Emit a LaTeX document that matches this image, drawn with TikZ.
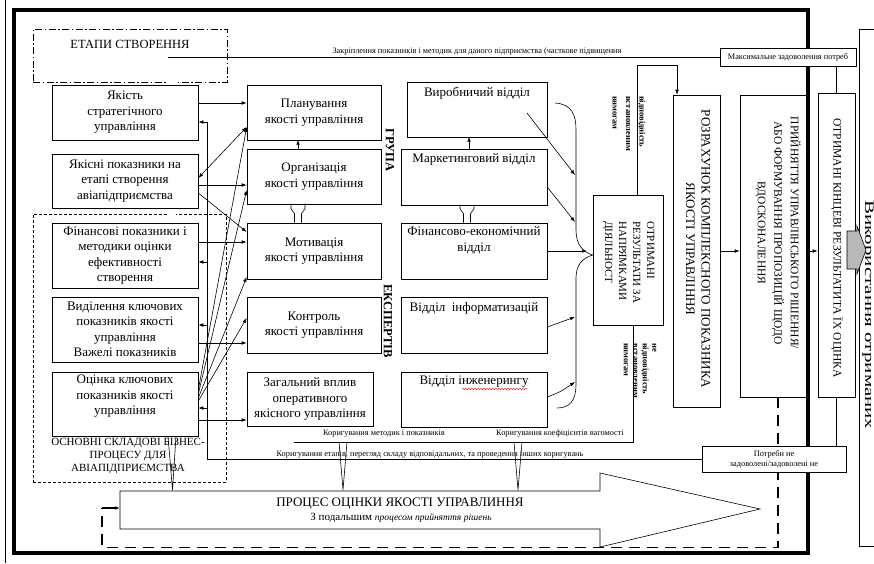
\documentclass[tikz,border=0pt]{standalone}
\usepackage{fontspec}
\setmainfont{Liberation Serif}
\usetikzlibrary{positioning,arrows.meta,decorations.pathmorphing}

\begin{document}
\begin{tikzpicture}[x=1pt, y=-1pt, line width=0.6pt,
    >={Latex[length=5pt,width=3.6pt]},
    font=\fontsize{13}{15.5}\selectfont,
    blk/.style={draw, fill=white, inner sep=0pt, align=center},
    note/.style={inner sep=0pt, font=\fontsize{8.3}{10}\selectfont},
    vert/.style={rotate=-90, inner sep=0pt},
    pipe/.style={double, double distance=7.6pt}]
\useasboundingbox (0,0) rectangle (874,563);

% page edge and outer frame
\draw (5.5,0) -- (5.5,563);
\draw[line width=3.2pt] (14,10) rectangle (808,553);

% stages of creation
\node[draw, dash pattern=on 7pt off 2.5pt on 1.5pt off 2.5pt, minimum width=194pt, minimum height=53pt] (etapy) at (130,55.5) {};
\node[inner sep=0pt, font=\fontsize{12.5}{15}\selectfont] (etapyt) at (130,44) {ЕТАПИ СТВОРЕННЯ};
\node[draw, dash pattern=on 3pt off 2pt, minimum width=193pt, minimum height=268pt] (osn) at (129.5,348) {};
\node[inner sep=0pt, align=center, font=\fontsize{11}{13}\selectfont] (osnt) at (128,456) {ОСНОВНІ СКЛАДОВІ БІЗНЕС-\\ПРОЦЕСУ ДЛЯ\\АВІАПІДПРИЄМСТВА};

% pipes between the columns
\coordinate (top) at (168,57);
\coordinate (strip) at (294,442);
\draw[pipe] (172,57) -- (172,436);
\draw[pipe] (343,57) -- (343,442);
\draw[pipe] (518,57) -- (518,442);
\draw[pipe] (298,279) -- (298,442);
\draw[pipe] (468,279) -- (468,442);
\draw (168,436) -- (172.5,490) -- (176,436);
\draw (339,442) -- (343,490) -- (347,442);
\draw (514,442) -- (518,490) -- (522,442);

% left column
\node[blk, minimum width=146pt, minimum height=55pt] (s1) at (125,112.5) {Якість\\стратегічного\\управління};
\node[blk, minimum width=146pt, minimum height=54pt] (s2) at (125,181) {Якісні показники на\\етапі створення\\авіапідприємства};
\node[blk, minimum width=146pt, minimum height=65pt] (s3) at (125,255.5) {Фінансові показники і\\методики оцінки\\ефективності\\створення};
\node[blk, minimum width=146pt, minimum height=65pt] (s4) at (125,329.5) {Виділення ключових\\показників якості\\управління\\Важелі показників};
\node[blk, minimum width=146pt, minimum height=64pt] (s5) at (125,404) {};
\node[inner sep=0pt, align=center, below=3pt of s5.north] (s5t) {Оцінка ключових\\показників якості\\управління};

% management column
\node[blk, minimum width=134pt, minimum height=55pt] (p1) at (314,112.5) {Планування\\якості управління};
\node[blk, minimum width=134pt, minimum height=55pt] (p2) at (314,176.5) {Організація\\якості управління};
\node[blk, minimum width=134pt, minimum height=56pt] (p3) at (314,251) {Мотивація\\якості управління};
\node[blk, minimum width=134pt, minimum height=56pt] (p4) at (314,325) {Контроль\\якості управління};
\node[blk, minimum width=126pt, minimum height=54pt] (p5) at (310,399) {Загальний вплив\\оперативного\\якісного управління};
\draw[->] ([xshift=-16pt]p2.north) -- ++(0,-9);
\draw ([xshift=-19.5pt]p3.north) -- ++(0,-9) -- ++(-3.5,-5) -- ++(0,-5);
\draw ([xshift=-12.5pt]p3.north) -- ++(0,-9) -- ++(3.5,-5) -- ++(0,-5);

% departments column
\node[blk, minimum width=140pt, minimum height=55pt] (v1) at (477,109.5) {};
\node[blk, minimum width=146pt, minimum height=56pt] (v2) at (474,177) {};
\node[blk, minimum width=146pt, minimum height=56pt] (v3) at (474,251) {};
\node[blk, minimum width=146pt, minimum height=56pt] (v4) at (474,325) {};
\node[blk, minimum width=146pt, minimum height=55pt] (v5) at (474,399.5) {};
\node[inner sep=0pt, below=5pt of v1.north] (v1t) {Виробничий відділ};
\node[inner sep=0pt, below=5pt of v2.north] (v2t) {Маркетинговий відділ};
\node[inner sep=0pt, align=center, below=4pt of v3.north] (v3t) {Фінансово-економічний\\відділ};
\node[inner sep=0pt, below=5pt of v4.north] (v4t) {Відділ~ інформатизацій};
\node[inner sep=0pt, below=4pt of v5.north] (v5t) {Відділ інженерингу};
\draw[red, line width=0.4pt, decorate, decoration={snake, amplitude=0.8pt, segment length=3pt}] (462,389) -- (528,389);
\draw[->] ([xshift=-5pt]v2.north) -- ++(0,-12);
\draw ([xshift=-10.5pt]v3.north) -- ++(0,-9) -- ++(-3.5,-5) -- ++(0,-4);
\draw ([xshift=-3.5pt]v3.north) -- ++(0,-9) -- ++(3.5,-5) -- ++(0,-4);

% experts group
\node[vert, font=\bfseries\fontsize{12.5}{15}\selectfont] (grupa) at (390,150) {ГРУПА};
\node[vert, font=\bfseries\fontsize{12.5}{15}\selectfont] (eksp) at (388,321) {ЕКСПЕРТІВ};

% links between the two left columns
\draw[->] ([yshift=9.5pt]s1.east) -- ([yshift=9.5pt]p1.west);
\draw[<->] ([yshift=3pt]s2.east) -- ([yshift=-14.5pt]p1.west);
\draw[->] ([yshift=-4pt]s2.east) -- ([yshift=-8.5pt]p2.west);
\draw[->] ([yshift=-12pt]s2.east) -- ([yshift=19pt]p3.west);
\draw[->] ([yshift=13.5pt]s3.east) -- ([yshift=9pt]p3.west);
\draw[->] ([yshift=-13.5pt]s4.east) -- ([yshift=-18pt]p4.west);
\draw[->] ([yshift=-16pt]s5.east) -- ([yshift=-21pt]p5.west);
\draw[->] ([yshift=14pt]s5.east) -- ([yshift=-14.5pt]p1.west);
\draw[->] ([yshift=10pt]s5.east) -- ([yshift=-13.5pt]p2.west);
\draw[->] ([yshift=6pt]s5.east) -- ([yshift=-26pt]p3.west);
\draw[->] ([yshift=3pt]s5.east) -- ([yshift=7pt]p4.west);

% results by directions
\node[blk, minimum width=70pt, minimum height=130pt] (otr) at (628,260) {};
\node[vert, anchor=west, align=left, font=\fontsize{11}{14}\selectfont] (otrt) at (628.5,221) {ОТРИМАНІ\\РЕЗУЛЬТАТИ ЗА\\НАПРЯМКАМИ\\ДІЯЛЬНОСТ};
\coordinate (b1) at (575,175);
\coordinate (b2) at (575,222);
\coordinate (b3) at (587,251);
\coordinate (b4) at (575,317);
\coordinate (b5) at (575,382);
\draw (555,103) .. controls (572,104) and (576,115) .. (576,130) -- (576,230) .. controls (576,245) and (583,252) .. ([yshift=5pt]otr.west);
\draw ([yshift=5pt]otr.west) .. controls (583,258) and (576,264) .. (576,278) -- (576,385) .. controls (576,400) and (570,408) .. (557,408);
\draw[->] ([xshift=50pt,yshift=-3.5pt]v1.center) -- (b1);
\draw[->] ([yshift=-10pt]v2.east) -- (b2);
\draw[->] (v3.east) -- (b3);
\draw[->] ([yshift=-2pt]v4.east) -- (b4);
\draw[->] ([yshift=2.5pt]v5.east) .. controls (560,392) .. (b5);

% complex indicator and decision
\node[blk, minimum width=47pt, minimum height=312pt] (roz) at (696.5,251) {};
\node[vert, align=center] (rozt) at (698,249) {РОЗРАХУНОК КОМПЛЕКСНОГО ПОКАЗНИКА\\ЯКОСТІ УПРАВЛІННЯ};
\node[blk, minimum width=66pt, minimum height=302pt] (pry) at (773,246) {};
\node[vert, align=center, font=\fontsize{11.5}{16.5}\selectfont] (pryt) at (778,233) {ПРИЙНЯТТЯ УПРАВЛІНСЬКОГО РІШЕННЯ/\\АБО ФОРМУВАННЯ ПРОПОЗИЦІЙ ЩОДО\\ВДОСКОНАЛЕННЯ};
\node[blk, minimum width=37pt, minimum height=304pt] (kin) at (836.5,245) {};
\node[vert, font=\fontsize{11.5}{14}\selectfont] (kint) at (837,248) {ОТРИМАНІ КІНЦЕВІ РЕЗУЛЬТАТИТА ЇХ ОЦІНКА};
\node[blk, minimum width=31pt, minimum height=517pt] (vyk) at (874.5,287.5) {};
\node[vert, anchor=south, font=\fontsize{21}{25}\selectfont] (vykt) at (862,315) {\scalebox{1}[0.62]{Використання отриманих}};
\draw[fill=gray!55] (847,231) -- (857,231) -- (857,226) -- (866,250) -- (857,274) -- (857,269) -- (847,269) -- cycle;

% main process arrow
\draw (120,491) -- (600,491) -- (600,473) -- (760,509) -- (600,547) -- (600,529) -- (120,529) -- cycle;
\node[inner sep=0pt, font=\fontsize{13}{15}\selectfont] (proc) at (400,504) {ПРОЦЕС ОЦІНКИ ЯКОСТІ УПРАВЛИННЯ};
\node[inner sep=0pt, font=\fontsize{11}{13}\selectfont] (proct) at (401,518) {З подальшим {\itshape\fontsize{9.5}{11}\selectfont процесом прийняття рішень}};
\coordinate (tail) at (120,508);
\draw[line width=1.5pt, dash pattern=on 11pt off 7pt] ([xshift=5pt]pry.south) -- ++(0,150) -| ([xshift=-18pt]tail);
\draw[->, line width=1.5pt] ([xshift=-18pt]tail) -- (tail);

% needs boxes
\node[blk, note, minimum width=136pt, minimum height=18pt] (maxb) at (788,57) {Максимальне задоволення потреб};
\node[blk, note, minimum width=144pt, minimum height=26pt] (ptr) at (774,459) {Потреби не\\задоволені/задоволені не};

% connections on the right
\draw (top) -- (maxb.west);
\draw[->] ([xshift=9pt]otr.north) -- ++(0,-129) -| ([xshift=-19.5pt]roz.north);
\draw ([xshift=5pt]otr.south) |- (strip);
\draw[->] (roz.east) -- (roz.east -| pry.west);
\draw[->] (pry.east |- roz.east) -- (kin.west |- roz.east);
\draw (kin.north |- maxb.south) -- (kin.north);
\draw (kin.south) -- (kin.south |- ptr.north);

% feedback and correction
\coordinate (fb) at (207,122);
\draw[->] (ptr.west) -| (fb) -- (fb -| s1.east);
\draw[<-] ([yshift=-6.5pt]s3.east) -- ++(9,0);
\draw[<-] ([yshift=4.5pt]s4.east) -- ++(9,0);
\draw[<-] ([yshift=-4pt]s5.east) -- ++(9,0);

% small labels
\node[note] (zakr) at (477,51) {Закріплення показників і методик для даного підприємства (часткове підвищення};
\node[note] (koret) at (430,455) {Коригування етапів, перегляд складу відповідальних, та проведення інших коригувань};
\node[note] (kormet) at (384,434) {Коригування методик і показників};
\node[note] (korkoef) at (560,434) {Коригування коефіцієнтів вагомості};
\node[vert, anchor=west, align=left, font=\bfseries\fontsize{8.5}{13.5}\selectfont] (vidp) at (629,96) {відповідність\\встановленим\\вимогам};
\node[vert, anchor=west, align=left, font=\bfseries\fontsize{8.5}{9.5}\selectfont] (nevidp) at (640,343) {не\\відповідність\\встановленим\\вимогам};
\end{tikzpicture}
\end{document}
